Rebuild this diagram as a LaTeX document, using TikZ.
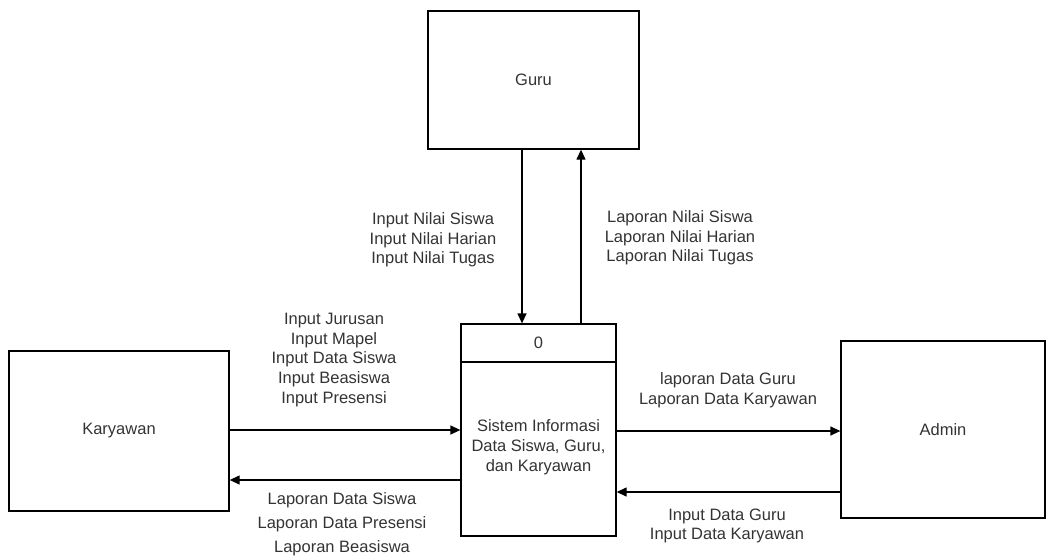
\documentclass[tikz,border=0pt]{standalone}
\usepackage{fontspec}
\setmainfont{Liberation Sans}
\usetikzlibrary{arrows.meta}
\begin{document}
\begin{tikzpicture}[x=1pt,y=-1pt,
  ent/.style={draw, line width=1.3pt, inner sep=0pt, font=\fontsize{16.5}{19.5}\selectfont, text=black!80},
  lbl/.style={align=center, inner sep=0pt, font=\fontsize{16.5}{19.7}\selectfont, text=black!80},
  arr/.style={line width=1.3pt, -{Triangle[length=10pt,width=9pt]}}]
\useasboundingbox (0,0) rectangle (1049,557);
\node[ent, minimum width=211pt, minimum height=138pt] (guru) at (533.5,80) {Guru};
\node[ent, minimum width=155pt, minimum height=212pt] (proc) at (538.5,430) {};
\node[ent, minimum width=220pt, minimum height=160pt] (kar) at (119,431) {Karyawan};
\node[ent, minimum width=204pt, minimum height=177pt] (adm) at (943,429.5) {Admin};
\coordinate (div) at (0,362);
\draw[line width=1.3pt] (proc.west |- div) -- (proc.east |- div);
\node[lbl] (zero) at (538.5,343) {0};
\node[lbl, font=\fontsize{16.5}{20}\selectfont] (ptxt) at (538.5,447) {Sistem Informasi\\Data Siswa, Guru,\\dan Karyawan};
% connectors
\coordinate (dnx) at (522,0);
\coordinate (upx) at (581,0);
\coordinate (y1) at (0,430);
\coordinate (y2) at (0,480);
\coordinate (y3) at (0,431);
\coordinate (y4) at (0,492);
\draw[arr] (guru.south -| dnx) -- (proc.north -| dnx);
\draw[arr] (proc.north -| upx) -- (guru.south -| upx);
\draw[arr] (kar.east |- y1) -- (proc.west |- y1);
\draw[arr] (proc.west |- y2) -- (kar.east |- y2);
\draw[arr] (proc.east |- y3) -- (adm.west |- y3);
\draw[arr] (adm.west |- y4) -- (proc.east |- y4);
% labels
\node[lbl] (l1) at (433,240) {Input Nilai Siswa\\Input Nilai Harian\\Input Nilai Tugas};
\node[lbl] (l2) at (680,238) {Laporan Nilai Siswa\\Laporan Nilai Harian\\Laporan Nilai Tugas};
\node[lbl] (l3) at (334,360) {Input Jurusan\\Input Mapel\\Input Data Siswa\\Input Beasiswa\\Input Presensi};
\node[lbl, font=\fontsize{16.5}{24}\selectfont] (l4) at (342,524) {Laporan Data Siswa\\Laporan Data Presensi\\Laporan Beasiswa};
\node[lbl] (l5) at (728,390) {laporan Data Guru\\Laporan Data Karyawan};
\node[lbl] (l6) at (727,526) {Input Data Guru\\Input Data Karyawan};
\end{tikzpicture}
\end{document}
